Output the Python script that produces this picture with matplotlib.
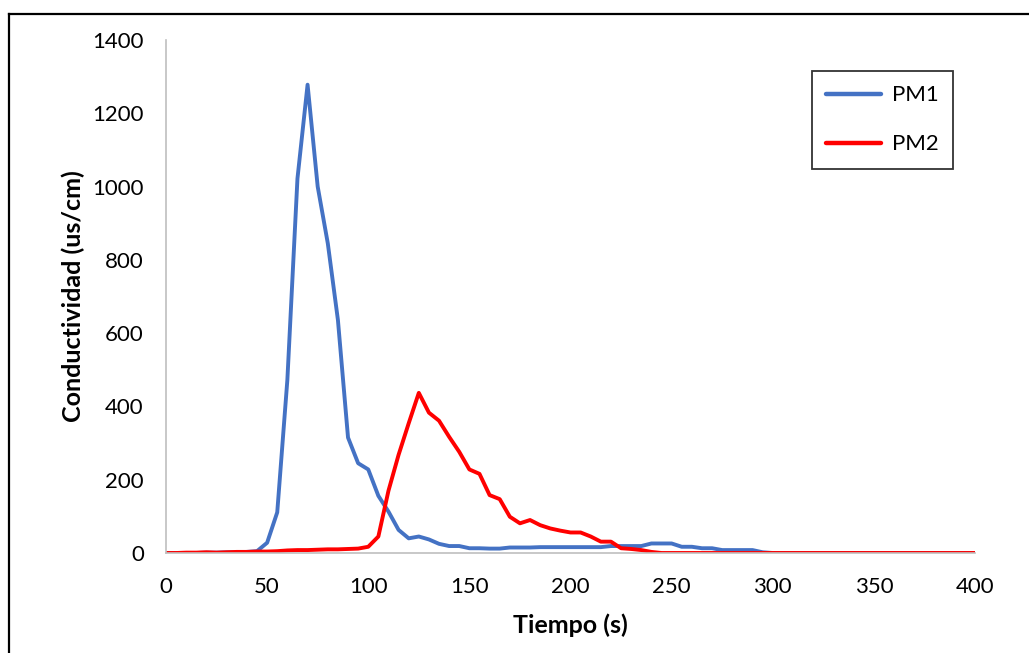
import matplotlib
matplotlib.use("Agg")
import matplotlib.pyplot as plt
from matplotlib.lines import Line2D

plt.rcParams['font.family'] = ['Lato', 'DejaVu Sans']

# tiempo (s)
tiempo = [0, 5, 10, 15, 20, 25, 30, 35, 40, 45, 50, 55, 60, 65, 70, 75, 80, 85, 90, 95,
          100, 105, 110, 115, 120, 125, 130, 135, 140, 145, 150, 155, 160, 165, 170, 175,
          180, 185, 190, 195, 200, 205, 210, 215, 220, 225, 230, 235, 240, 245, 250, 255,
          260, 265, 270, 275, 280, 285, 290, 295, 300, 305, 310, 315, 320, 325, 330, 335,
          340, 345, 350, 355, 360, 365, 370, 375, 380, 385, 390, 395, 400]

# conductividad (us/cm)
pm1 = [0, 0, 0, 0, 1, 1, 2, 2, 3, 5, 28, 111, 472, 1022, 1278, 1000, 845, 636, 315, 245,
       228, 156, 113, 63, 40, 45, 37, 25, 19, 19, 13, 13, 12, 12, 15, 15,
       15, 16, 16, 16, 16, 16, 16, 16, 19, 19, 19, 19, 26, 26, 26, 17,
       17, 13, 13, 8, 8, 8, 8, 2, 0, 0, 0, 0, 0, 0, 0, 0,
       0, 0, 0, 0, 0, 0, 0, 0, 0, 0, 0, 0, 0]

pm2 = [0, 0, 1, 1, 2, 1, 2, 3, 3, 4, 4, 5, 7, 8, 8, 9, 10, 10, 11, 12,
       17, 45, 170, 268, 354, 437, 383, 361, 317, 276, 228, 216, 158, 147, 99, 81,
       90, 76, 67, 61, 56, 56, 45, 31, 31, 13, 11, 8, 3, 0, 0, 0,
       0, 0, 0, 0, 0, 0, 0, 0, 0, 0, 0, 0, 0, 0, 0, 0,
       0, 0, 0, 0, 0, 0, 0, 0, 0, 0, 0, 0, 0]

y_ticks = [0, 200, 400, 600, 800, 1000, 1200, 1400]
x_ticks = [0, 50, 100, 150, 200, 250, 300, 350, 400]

fig = plt.figure(figsize=(10.29, 6.53), dpi=100)
ax = fig.add_axes([166 / 1029, 1 - 553 / 653, (975 - 166) / 1029, (553 - 40) / 653])

ax.plot(tiempo, pm1, color='#4472C4', lw=2.8, label='PM1', solid_joinstyle='round')
ax.plot(tiempo, pm2, color='#FF0000', lw=2.8, label='PM2', solid_joinstyle='round')

ax.set_xlim(0, 400)
ax.set_ylim(0, 1400)
ax.set_xticks(x_ticks)
ax.set_yticks(y_ticks)
ax.tick_params(length=0, labelsize=16, colors='black')
ax.tick_params(axis='y', pad=16)
ax.tick_params(axis='x', pad=17)

for s in ['top', 'right']:
    ax.spines[s].set_visible(False)
for s in ['left', 'bottom']:
    ax.spines[s].set_color('#BFBFBF')
    ax.spines[s].set_linewidth(1.2)

ax.set_xlabel('Tiempo (s)', fontsize=18, fontweight='bold', labelpad=12)
ax.set_ylabel('Conductividad (us/cm)', fontsize=18, fontweight='bold', labelpad=5.5)

leg = ax.legend(loc='upper left', bbox_to_anchor=(812 / 1029, 1 - 71 / 653),
                bbox_transform=fig.transFigure, fontsize=16, frameon=True,
                fancybox=False, edgecolor='black', handlelength=2.45,
                handletextpad=0.5, labelspacing=1.3, borderpad=0.65,
                borderaxespad=0)
leg.get_frame().set_linewidth(1.3)
leg.get_frame().set_boxstyle('square', pad=0)
for h in leg.get_lines():
    h.set_linewidth(3.2)
    h.set_solid_capstyle('round')

# marco exterior del grafico
fig.add_artist(Line2D([9 / 1029, 9 / 1029], [-0.1, 1 - 14 / 653],
                      transform=fig.transFigure, color='black', lw=1.6))
fig.add_artist(Line2D([9 / 1029, 1.1], [1 - 14 / 653, 1 - 14 / 653],
                      transform=fig.transFigure, color='black', lw=1.6))

fig.savefig('out.png', dpi=100)
